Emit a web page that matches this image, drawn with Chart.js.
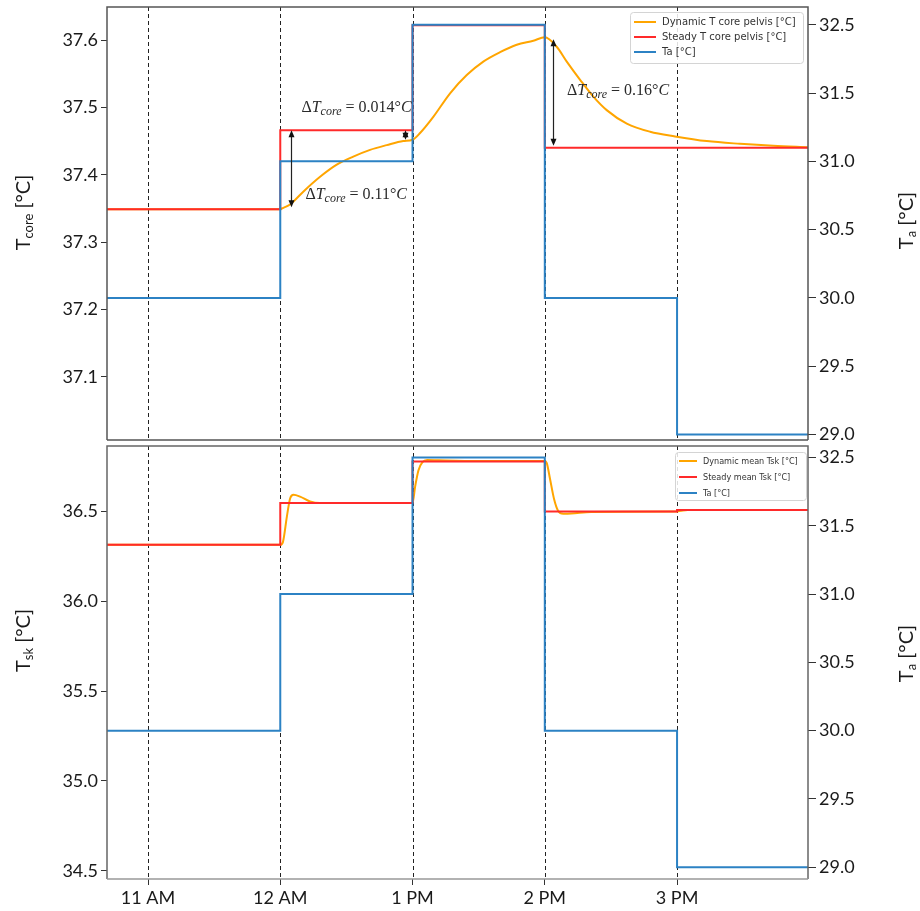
<!DOCTYPE html>
<html>
<head>
<meta charset="utf-8">
<title>Core and skin temperature response</title>
<script src="https://cdn.jsdelivr.net/npm/chart.js@4.4.1/dist/chart.umd.min.js"></script>
<style>
  html, body { margin: 0; padding: 0; background: #fff; }
  #wrap { position: relative; width: 920px; height: 911px; }
  #wrap canvas { position: absolute; left: 0; top: 0; }
</style>
</head>
<body>
<div id="wrap">
  <canvas id="skinChart" width="920" height="911"></canvas>
  <canvas id="coreChart" width="920" height="911"></canvas>
</div>
<script>
// Time of day in hours (11 = 11 AM, 15 = 3 PM)
const hourTicks = [11, 12, 13, 14, 15];
const hourLabels = ["11 AM", "12 AM", "1 PM", "2 PM", "3 PM"];

// Ambient temperature schedule, each level holds until the next step time
const stepHours = [10.69, 12, 13, 14, 15, 15.99];
const taLevels = [30, 31, 32, 30, 29, 29];
const steadyCore = [37.349, 37.466, 37.622, 37.44, 37.44, 37.44];
const steadySkin = [36.315, 36.547, 36.778, 36.5, 36.509, 36.509];

// Dynamic model output, core (pelvis)
const coreHours = [10.69, 12.0, 12.011, 12.074, 12.174, 12.301, 12.427, 12.552, 12.679, 12.805, 12.93, 13.0,
  13.057, 13.157, 13.284, 13.41, 13.535, 13.662, 13.788, 13.913, 14.0, 14.09, 14.166, 14.267, 14.367,
  14.468, 14.62, 14.796, 14.985, 15.225, 15.476, 15.728, 15.99];
const dynamicCore = [37.349, 37.349, 37.35, 37.356, 37.375, 37.397, 37.415, 37.427, 37.437, 37.444, 37.45, 37.452,
  37.462, 37.486, 37.521, 37.548, 37.568, 37.582, 37.593, 37.599, 37.604, 37.59, 37.568, 37.541, 37.516,
  37.496, 37.476, 37.464, 37.457, 37.45, 37.446, 37.443, 37.441];

// Dynamic model output, mean skin
const skinHours = [10.69, 12.0, 12.02, 12.05, 12.075, 12.1, 12.15, 12.225, 12.3, 13.0, 13.02, 13.045, 13.075,
  13.11, 13.2, 13.5, 14.0, 14.015, 14.04, 14.07, 14.1, 14.14, 14.2, 14.35, 15.0, 15.03, 15.08, 15.99];
const dynamicSkin = [36.315, 36.315, 36.33, 36.472, 36.574, 36.593, 36.583, 36.556, 36.547, 36.547, 36.64, 36.73, 36.775,
  36.787, 36.785, 36.781, 36.781, 36.77, 36.68, 36.57, 36.505, 36.488, 36.489, 36.498, 36.5, 36.504, 36.509, 36.509];

// Axis ticks
const coreTicks = [37.1, 37.2, 37.3, 37.4, 37.5, 37.6];
const skinTicks = [34.5, 35.0, 35.5, 36.0, 36.5];
const taTicks = [29, 29.5, 30, 30.5, 31, 31.5, 32];
const taTickText = ["29.0", "29.5", "30.0", "30.5", "31.0", "31.5", "32.5"];

// Temperature differences marked on the core panel
const coreDeltas = [
  { text: "0.014", hour: 12.943, from: 37.466, to: 37.452, textHour: 12.16, textTemp: 37.493 },
  { text: "0.11", hour: 12.081, from: 37.466, to: 37.352, textHour: 12.19, textTemp: 37.364 },
  { text: "0.16", hour: 14.062, from: 37.601, to: 37.443, textHour: 14.168, textTemp: 37.518 },
];

const ORANGE = "#ffa500";
const RED = "#ff2a2a";
const BLUE = "#2c82c4";
const TICK_FONT = { family: "Lato, 'Open Sans', sans-serif", size: 18 };

const pairs = (xs, ys) => xs.map((x, i) => ({ x, y: ys[i] }));

// dashed hour markers behind the lines, frame around the plot
const hourLines = {
  id: "hourLines",
  beforeDatasetsDraw(chart) {
    const { ctx, chartArea: a } = chart;
    const xs = chart.scales.x;
    ctx.save();
    ctx.strokeStyle = "#222";
    ctx.lineWidth = 1;
    ctx.setLineDash([4, 3]);
    hourTicks.forEach((h) => {
      const px = Math.round(xs.getPixelForValue(h)) + 0.5;
      ctx.beginPath();
      ctx.moveTo(px, a.top);
      ctx.lineTo(px, a.bottom);
      ctx.stroke();
    });
    ctx.restore();
  },
  afterDraw(chart, args, opts) {
    const { ctx, chartArea: a } = chart;
    ctx.save();
    ctx.lineWidth = 1.5;
    ctx.strokeStyle = opts.edge || "#555";
    ctx.beginPath();
    ctx.moveTo(a.left, a.bottom);
    ctx.lineTo(a.left, a.top);
    ctx.lineTo(a.right, a.top);
    ctx.lineTo(a.right, a.bottom);
    ctx.stroke();
    ctx.strokeStyle = opts.base || "#555";
    ctx.beginPath();
    ctx.moveTo(a.left, a.bottom);
    ctx.lineTo(a.right, a.bottom);
    ctx.stroke();
    ctx.restore();
  },
};

// legend box in the upper right corner of the plot
const cornerLegend = {
  id: "cornerLegend",
  afterDraw(chart, args, opts) {
    const { ctx, chartArea: a } = chart;
    const x = a.right - opts.offsetRight - opts.width;
    const y = a.top + opts.offsetTop;
    ctx.save();
    ctx.fillStyle = "rgba(255,255,255,0.85)";
    ctx.strokeStyle = "#d4d4d4";
    ctx.lineWidth = 1;
    ctx.beginPath();
    ctx.roundRect(x + 0.5, y + 0.5, opts.width, opts.height, 3);
    ctx.fill();
    ctx.stroke();
    ctx.font = opts.font;
    ctx.textBaseline = "middle";
    chart.data.datasets.forEach((ds, i) => {
      const ry = y + opts.firstRow + i * opts.rowHeight;
      ctx.strokeStyle = ds.borderColor;
      ctx.lineWidth = 2;
      ctx.beginPath();
      ctx.moveTo(x + 4, ry);
      ctx.lineTo(x + 4 + opts.sample, ry);
      ctx.stroke();
      ctx.fillStyle = "#333";
      ctx.fillText(ds.label, x + 10 + opts.sample, ry + 0.5);
    });
    ctx.restore();
  },
};

// rotated axis titles with a subscript
function drawTitle(ctx, cx, cy, main, sub, rest) {
  ctx.save();
  ctx.translate(cx, cy);
  ctx.rotate(-Math.PI / 2);
  ctx.fillStyle = "#1a1a1a";
  ctx.textBaseline = "middle";
  const big = "20px Lato, 'Open Sans', sans-serif";
  const small = "13px Lato, 'Open Sans', sans-serif";
  ctx.font = big;
  const w1 = ctx.measureText(main).width;
  const w3 = ctx.measureText(rest).width;
  ctx.font = small;
  const w2 = ctx.measureText(sub).width;
  let x = -(w1 + w2 + w3) / 2;
  ctx.font = big;
  ctx.fillText(main, x, 0);
  x += w1;
  ctx.font = small;
  ctx.fillText(sub, x, 5);
  x += w2;
  ctx.font = big;
  ctx.fillText(rest, x, 0);
  ctx.restore();
}

const axisTitles = {
  id: "axisTitles",
  afterDraw(chart, args, opts) {
    const { ctx, chartArea: a } = chart;
    const mid = (a.top + a.bottom) / 2;
    drawTitle(ctx, 24, mid + opts.leftShift, "T", opts.leftSub, " [°C]");
    drawTitle(ctx, 907, mid + opts.rightShift, "T", "a", " [°C]");
  },
};

// "ΔT_core = x°C" notes with arrows
function arrowHead(ctx, x, y, dir) {
  ctx.beginPath();
  ctx.moveTo(x, y);
  ctx.lineTo(x - 3, y - 7 * dir);
  ctx.lineTo(x + 3, y - 7 * dir);
  ctx.closePath();
  ctx.fill();
}

const deltaNotes = {
  id: "deltaNotes",
  afterDatasetsDraw(chart) {
    const { ctx } = chart;
    const xs = chart.scales.x;
    const ys = chart.scales.y;
    ctx.save();
    coreDeltas.forEach((d) => {
      const px = Math.round(xs.getPixelForValue(d.hour)) + 0.5;
      const y1 = ys.getPixelForValue(d.from);
      const y2 = ys.getPixelForValue(d.to);
      ctx.strokeStyle = "#222";
      ctx.fillStyle = "#111";
      ctx.lineWidth = 1.2;
      ctx.beginPath();
      ctx.moveTo(px, y1 + 3);
      ctx.lineTo(px, y2 - 3);
      ctx.stroke();
      arrowHead(ctx, px, y1, -1);
      arrowHead(ctx, px, y2, 1);

      let tx = xs.getPixelForValue(d.textHour);
      const ty = ys.getPixelForValue(d.textTemp);
      ctx.fillStyle = "#2a2a2a";
      ctx.textBaseline = "alphabetic";
      const parts = [
        ["16px 'Liberation Serif', serif", "Δ", 0],
        ["italic 16px 'Liberation Serif', serif", "T", 0],
        ["italic 12px 'Liberation Serif', serif", "core", 3],
        ["16px 'Liberation Serif', serif", " = " + d.text + "°", 0],
        ["italic 16px 'Liberation Serif', serif", "C", 0],
      ];
      parts.forEach(([font, s, dy]) => {
        ctx.font = font;
        ctx.fillText(s, tx, ty + dy);
        tx += ctx.measureText(s).width;
      });
    });
    ctx.restore();
  },
};

function yAxis(position, min, max, ticks, labels, width) {
  return {
    type: "linear",
    position,
    min,
    max,
    afterBuildTicks: (s) => { s.ticks = ticks.map((v) => ({ value: v })); },
    afterFit: (s) => { s.width = width; s.paddingTop = 0; s.paddingBottom = 0; },
    border: { display: false },
    grid: { drawOnChartArea: false, tickLength: position === "left" ? 6 : 8, tickColor: "#333", tickWidth: 1 },
    ticks: {
      color: "#1a1a1a",
      font: TICK_FONT,
      padding: 3,
      callback: (v) => {
        const i = ticks.findIndex((t) => Math.abs(t - v) < 1e-6);
        return labels ? labels[i] : Number(v).toFixed(1);
      },
    },
  };
}

function baseOptions(extra) {
  return {
    responsive: false,
    animation: false,
    events: [],
    plugins: { legend: { display: false }, tooltip: { enabled: false }, ...extra.plugins },
    layout: { padding: extra.padding },
    scales: extra.scales,
  };
}

const lineStyle = { pointRadius: 0, borderWidth: 2, fill: false };

new Chart(document.getElementById("coreChart"), {
  type: "line",
  data: {
    datasets: [
      { label: "Dynamic T core pelvis [°C]", data: pairs(coreHours, dynamicCore), borderColor: ORANGE,
        cubicInterpolationMode: "monotone", yAxisID: "y", order: 2, ...lineStyle },
      { label: "Steady T core pelvis [°C]", data: pairs(stepHours, steadyCore), borderColor: RED,
        stepped: "before", yAxisID: "y", order: 1, ...lineStyle },
      { label: "Ta [°C]", data: pairs(stepHours, taLevels), borderColor: BLUE,
        stepped: "before", yAxisID: "y1", order: 0, ...lineStyle },
    ],
  },
  options: baseOptions({
    padding: { top: 7, bottom: 471, left: 0, right: 0 },
    scales: {
      x: { type: "linear", min: 10.69, max: 15.99, display: false },
      y: yAxis("left", 37.0065, 37.649, coreTicks, null, 107),
      y1: yAxis("right", 28.96, 32.13, taTicks, taTickText, 112),
    },
    plugins: {
      hourLines: { edge: "#555", base: "#555" },
      cornerLegend: { width: 173, height: 51, offsetRight: 5, offsetTop: 5, firstRow: 10, rowHeight: 15,
        sample: 22, font: "10px 'DejaVu Sans', sans-serif" },
      axisTitles: { leftSub: "core", leftShift: -11, rightShift: -3 },
    },
  }),
  plugins: [hourLines, cornerLegend, axisTitles, deltaNotes],
});

new Chart(document.getElementById("skinChart"), {
  type: "line",
  data: {
    datasets: [
      { label: "Dynamic mean Tsk [°C]", data: pairs(skinHours, dynamicSkin), borderColor: ORANGE,
        cubicInterpolationMode: "monotone", yAxisID: "y", order: 2, ...lineStyle },
      { label: "Steady mean Tsk [°C]", data: pairs(stepHours, steadySkin), borderColor: RED,
        stepped: "before", yAxisID: "y", order: 1, ...lineStyle },
      { label: "Ta [°C]", data: pairs(stepHours, taLevels), borderColor: BLUE,
        stepped: "before", yAxisID: "y1", order: 0, ...lineStyle },
    ],
  },
  options: baseOptions({
    padding: { top: 446, bottom: 0, left: 0, right: 0 },
    scales: {
      x: {
        type: "linear",
        min: 10.69,
        max: 15.99,
        afterBuildTicks: (s) => { s.ticks = hourTicks.map((v) => ({ value: v })); },
        afterFit: (s) => { s.height = 32; s.paddingLeft = 0; s.paddingRight = 0; },
        border: { display: false },
        grid: { drawOnChartArea: false, tickLength: 6, tickColor: "#333" },
        ticks: {
          color: "#1a1a1a",
          font: TICK_FONT,
          padding: 2,
          maxRotation: 0,
          callback: (v) => hourLabels[hourTicks.indexOf(v)],
        },
      },
      y: yAxis("left", 34.454, 36.865, skinTicks, null, 107),
      y1: yAxis("right", 28.914, 32.084, taTicks, taTickText, 112),
    },
    plugins: {
      hourLines: { edge: "#666", base: "#999" },
      cornerLegend: { width: 131, height: 48, offsetRight: 2, offsetTop: 6, firstRow: 9, rowHeight: 16,
        sample: 18, font: "9px 'DejaVu Sans Condensed', 'Liberation Sans Narrow', sans-serif" },
      axisTitles: { leftSub: "sk", leftShift: -22, rightShift: -9 },
    },
  }),
  plugins: [hourLines, cornerLegend, axisTitles],
});
</script>
</body>
</html>
